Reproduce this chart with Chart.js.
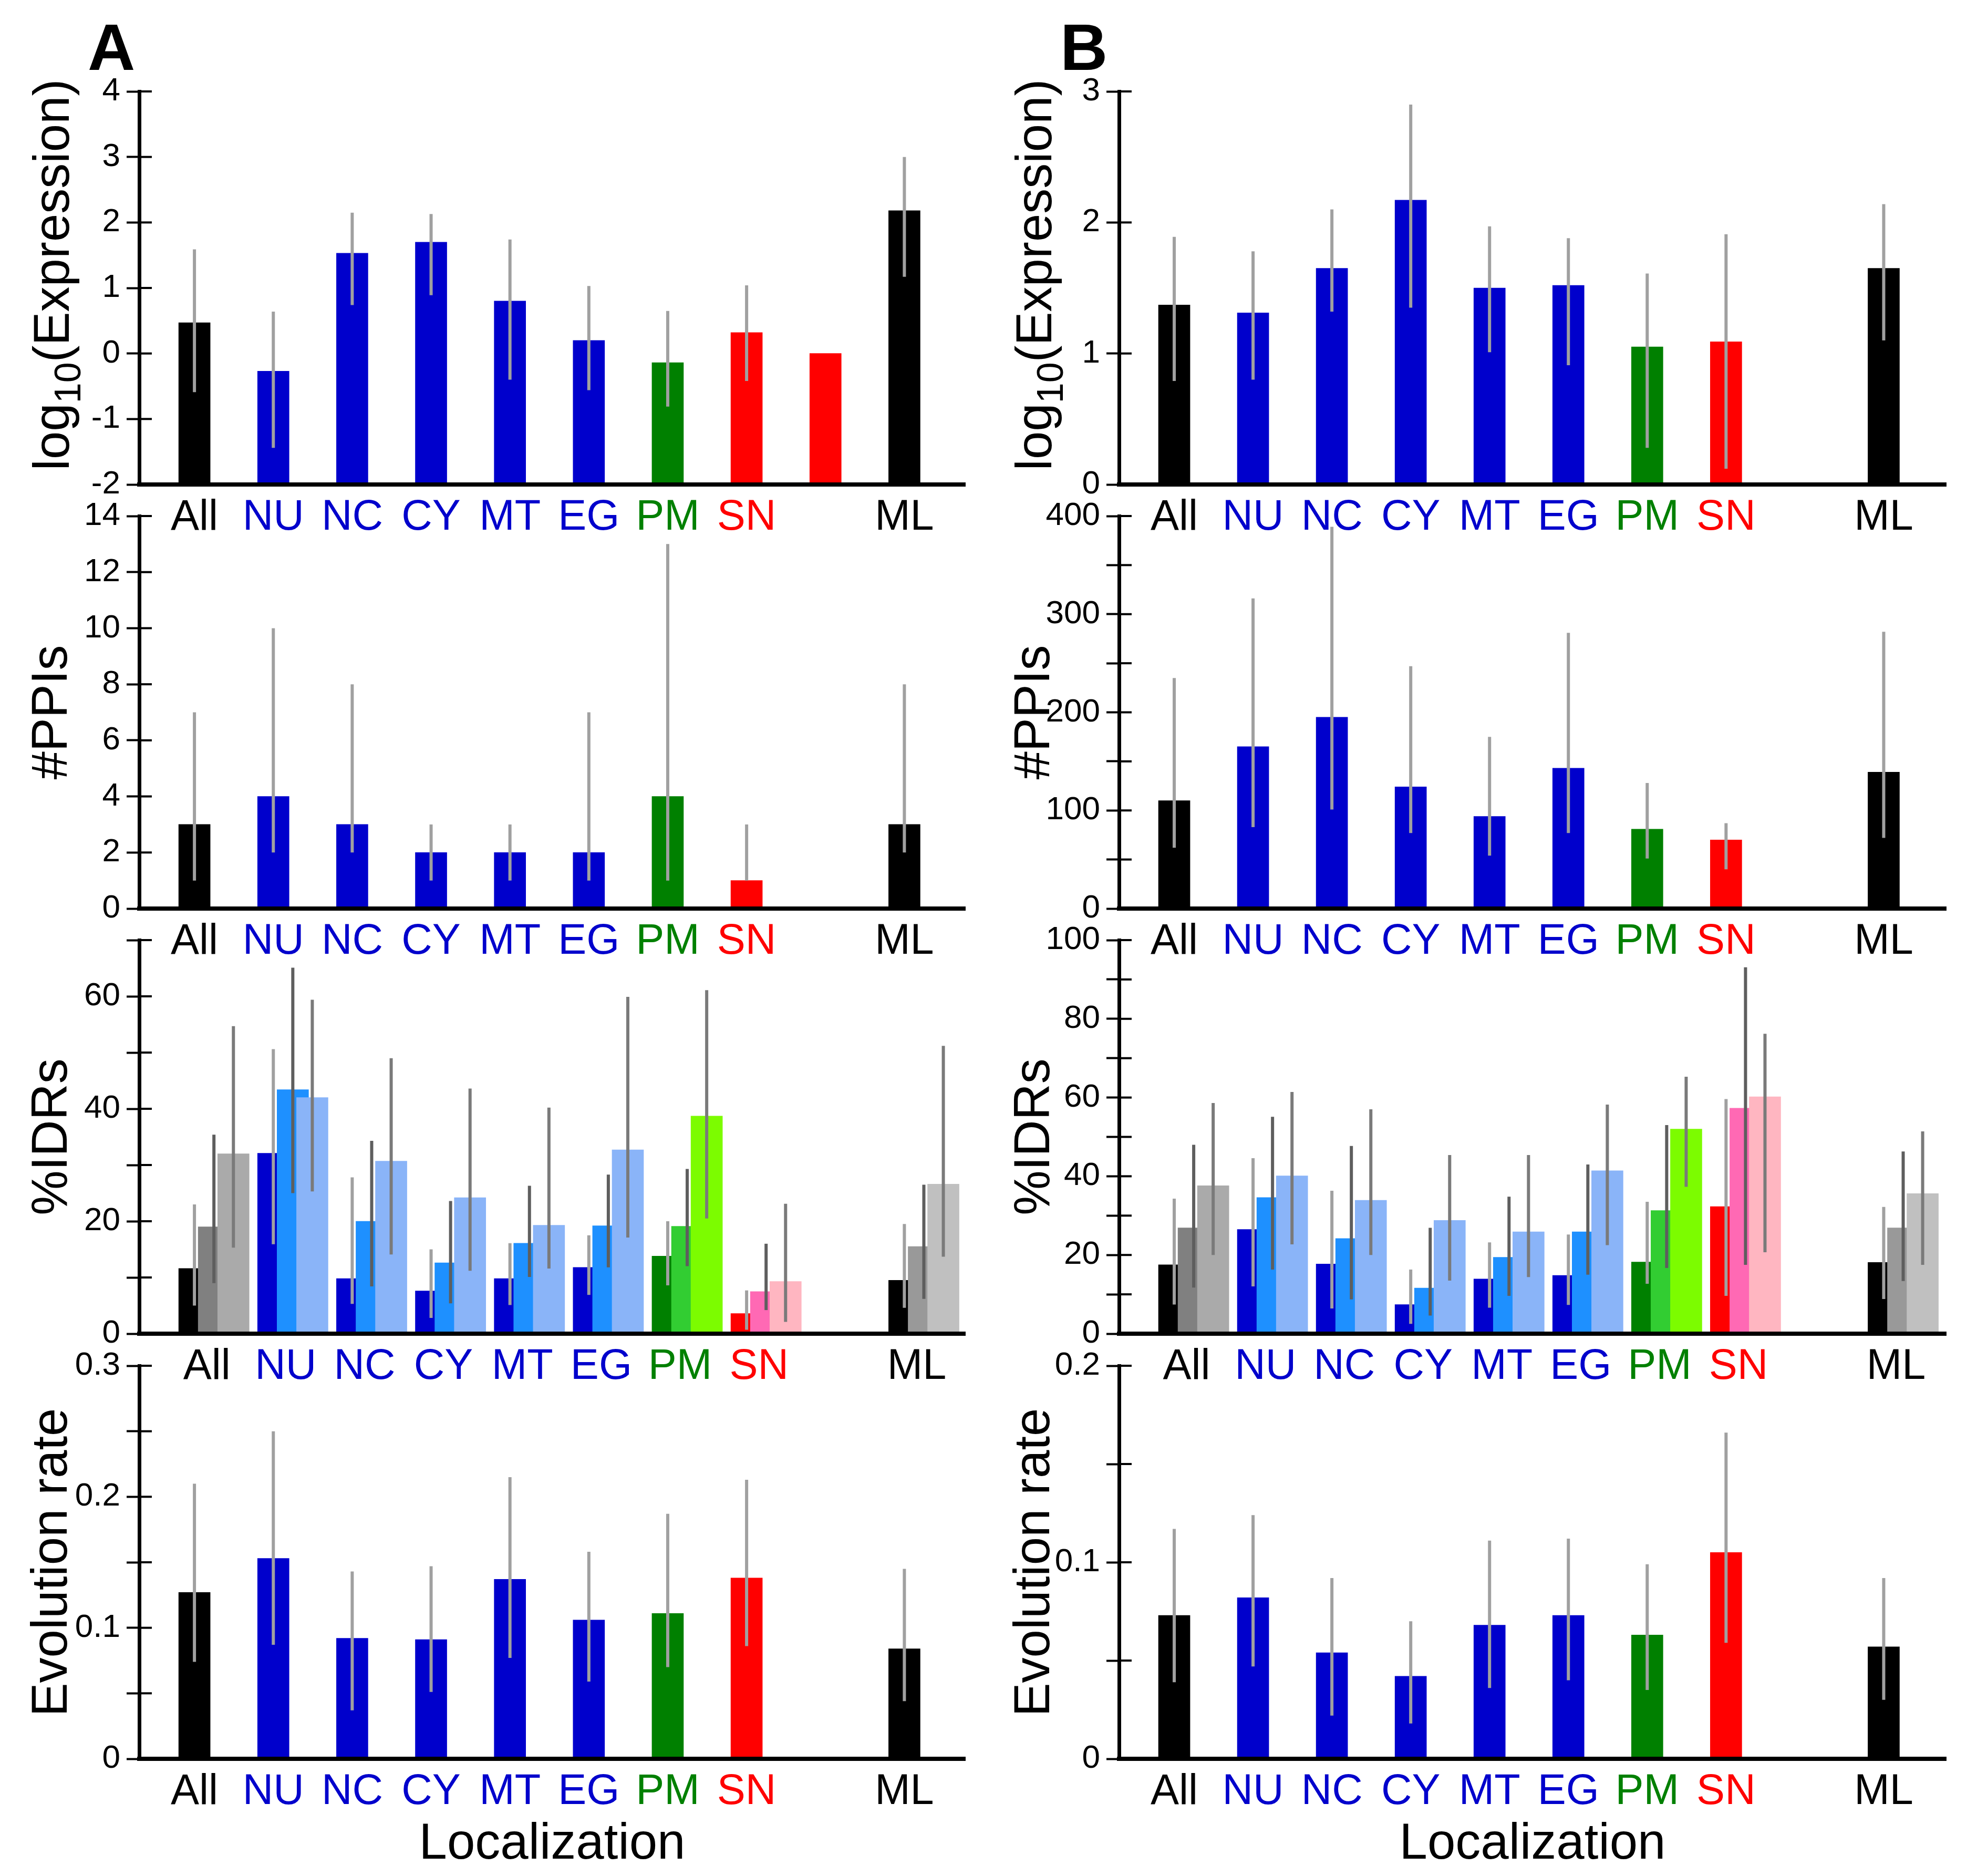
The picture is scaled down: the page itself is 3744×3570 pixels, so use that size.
<!DOCTYPE html>
<html>
<head>
<meta charset="utf-8">
<title>Localization panels</title>
<script src="https://cdn.jsdelivr.net/npm/chart.js@4.4.1/dist/chart.umd.min.js"></script>
<style>
  html, body { margin: 0; padding: 0; background: #fff; }
  #page { position: relative; width: 3744px; height: 3570px; overflow: hidden; background: #fff; }
  #page canvas { position: absolute; }
  .panel-tag { position: absolute; top: 27px; font: bold 125px "Liberation Sans", Arial, sans-serif; line-height: 1; color: #000; }
</style>
</head>
<body>
<div id="page">
  <div class="panel-tag" style="left:167px">A</div>
  <div class="panel-tag" style="left:2018px">B</div>
</div>
<script>
// categories on the x axis (the empty slot is the unlabelled red bar)
const categories = ['All', 'NU', 'NC', 'CY', 'MT', 'EG', 'PM', 'SN', '', 'ML'];
const categoryColors = ['#000000', '#0000cc', '#0000cc', '#0000cc', '#0000cc', '#0000cc', '#008000', '#ff0000', '#ff0000', '#000000'];

// log10(Expression)
const exprA     = [0.47, -0.27, 1.53, 1.70, 0.80, 0.20, -0.14, 0.32, 0.00, 2.18];
const exprALow  = [-0.59, -1.44, 0.74, 0.89, -0.40, -0.56, -0.81, -0.42, null, 1.17];
const exprAHigh = [1.59, 0.64, 2.15, 2.13, 1.74, 1.03, 0.65, 1.04, null, 3.00];
const exprB     = [1.37, 1.31, 1.65, 2.17, 1.50, 1.52, 1.05, 1.09, 0, 1.65];
const exprBLow  = [0.79, 0.80, 1.32, 1.35, 1.01, 0.91, 0.28, 0.12, null, 1.10];
const exprBHigh = [1.89, 1.78, 2.10, 2.90, 1.97, 1.88, 1.61, 1.91, null, 2.14];

// #PPIs
const ppiA     = [3, 4, 3, 2, 2, 2, 4, 1, 0, 3];
const ppiALow  = [1, 2, 2, 1, 1, 1, 1, 1, null, 2];
const ppiAHigh = [7, 10, 8, 3, 3, 7, 13, 3, null, 8];
const ppiB     = [110, 165, 195, 124, 94, 143, 81, 70, 0, 139];
const ppiBLow  = [62, 83, 101, 77, 54, 77, 51, 40, null, 72];
const ppiBHigh = [235, 316, 389, 247, 175, 281, 128, 87, null, 282];

// %IDRs, three series per localization
const idrA1     = [11.6, 32.1, 9.8, 7.6, 9.8, 11.8, 13.8, 3.6, 0, 9.5];
const idrA1Low  = [5.0, 15.9, 5.3, 2.8, 5.1, 6.9, 8.6, 0.7, null, 4.6];
const idrA1High = [23.0, 50.6, 27.8, 15.0, 16.1, 17.5, 20.0, 7.7, null, 19.5];
const idrA2     = [19.0, 43.4, 20.0, 12.6, 16.1, 19.2, 19.1, 7.5, 0, 15.5];
const idrA2Low  = [9.0, 25.0, 8.4, 5.4, 10.1, 11.8, 12.0, 4.2, null, 6.2];
const idrA2High = [35.4, 65.1, 34.3, 23.6, 26.3, 28.3, 29.3, 16.0, null, 26.5];
const idrA3     = [32.0, 42.0, 30.7, 24.2, 19.3, 32.7, 38.7, 9.3, 0, 26.6];
const idrA3Low  = [15.3, 25.3, 14.1, 11.2, 11.6, 17.1, 20.5, 2.1, null, 13.7];
const idrA3High = [54.7, 59.4, 49.0, 43.6, 40.2, 59.9, 61.1, 23.1, null, 51.2];

const idrB1     = [17.5, 26.5, 17.7, 7.4, 13.9, 14.8, 18.2, 32.3, 0, 18.1];
const idrB1Low  = [7.4, 12.0, 6.4, 2.5, 6.6, 7.3, 12.7, 9.6, null, 8.8];
const idrB1High = [34.3, 44.6, 36.3, 16.3, 23.2, 25.2, 33.5, 59.6, null, 32.2];
const idrB2     = [26.9, 34.6, 24.2, 11.6, 19.4, 25.9, 31.3, 57.3, 0, 26.9];
const idrB2Low  = [11.7, 16.3, 8.7, 4.6, 9.6, 15.0, 16.7, 17.5, null, 13.4];
const idrB2High = [48.0, 55.1, 47.7, 26.9, 34.8, 43.0, 53.0, 93.1, null, 46.3];
const idrB3     = [37.6, 40.1, 33.9, 28.8, 25.9, 41.4, 52.0, 60.2, 0, 35.6];
const idrB3Low  = [20.0, 22.7, 20.0, 13.5, 14.4, 22.5, 37.3, 20.7, null, 17.5];
const idrB3High = [58.6, 61.4, 57.0, 45.4, 45.4, 58.2, 65.3, 76.2, null, 51.4];

// Evolution rate
const evoA     = [0.127, 0.153, 0.092, 0.091, 0.137, 0.106, 0.111, 0.138, 0, 0.084];
const evoALow  = [0.074, 0.087, 0.037, 0.051, 0.077, 0.059, 0.070, 0.086, null, 0.044];
const evoAHigh = [0.210, 0.250, 0.143, 0.147, 0.215, 0.158, 0.187, 0.213, null, 0.145];
const evoB     = [0.073, 0.082, 0.054, 0.042, 0.068, 0.073, 0.063, 0.105, 0, 0.057];
const evoBLow  = [0.039, 0.047, 0.022, 0.018, 0.036, 0.040, 0.035, 0.059, null, 0.030];
const evoBHigh = [0.117, 0.124, 0.092, 0.070, 0.111, 0.112, 0.099, 0.166, null, 0.092];

// colours of the three %IDR shades per localization
const blueShades = ['#0000cd', '#1e90ff', '#8ab4f8'];
const idrShades = [
  ['#000000', '#808080', '#aaaaaa'],
  blueShades, blueShades, blueShades, blueShades, blueShades,
  ['#008000', '#32cd32', '#7cfc00'],
  ['#ff0000', '#ff69b4', '#ffb6c1'],
  ['#ff0000', '#ff69b4', '#ffb6c1'],
  ['#000000', '#999999', '#c0c0c0']
];
const idrErrColors = ['#a0a0a0', '#5e5e5e', '#7a7a7a'];

// layout (page pixels)
const PAD_TOP = 60;
const SHIFT = 0.247;       // offset of the side bars inside a %IDR group, in category units
const IDR_LABEL_NUDGE = -0.09;
const BAR_W = 60;
const TICK_LEN = 24;
const FONT = '"Liberation Sans", Arial, sans-serif';
const COLS = [
  { left: 0,    width: 1870, axisX: 265, padRight: 33, xMin: -0.70, xMax: 9.77 },
  { left: 1870, width: 1874, axisX: 260, padRight: 40, xMin: -0.70, xMax: 9.79 }
];
const ROWS = [
  { top: 174,  bottom: 922,  xh: 110 },
  { top: 982,  bottom: 1729, xh: 110 },
  { top: 1789, bottom: 2538, xh: 110 },
  { top: 2599, bottom: 3347, xh: 223 }
];

Chart.defaults.font.family = FONT;
Chart.defaults.color = '#000';

// error bars at the centre of every bar
const errorBars = {
  id: 'errorBars',
  afterDatasetsDraw(chart) {
    const ctx = chart.ctx, y = chart.scales.y;
    chart.data.datasets.forEach((ds, i) => {
      if (!ds.errLow) return;
      const meta = chart.getDatasetMeta(i);
      ctx.save();
      ctx.strokeStyle = ds.errColor;
      ctx.lineWidth = 6;
      meta.data.forEach((bar, j) => {
        if (ds.errLow[j] == null) return;
        ctx.beginPath();
        ctx.moveTo(bar.x, y.getPixelForValue(ds.errLow[j]));
        ctx.lineTo(bar.x, y.getPixelForValue(ds.errHigh[j]));
        ctx.stroke();
      });
      ctx.restore();
    });
  }
};

// y ticks cross the axis: draw the inner half
const innerTicks = {
  id: 'innerTicks',
  afterDraw(chart) {
    const y = chart.scales.y, ctx = chart.ctx;
    ctx.save();
    ctx.strokeStyle = '#000';
    ctx.lineWidth = 4;
    y.ticks.forEach(t => {
      const py = y.getPixelForValue(t.value);
      ctx.beginPath();
      ctx.moveTo(y.right, py);
      ctx.lineTo(y.right + TICK_LEN, py);
      ctx.stroke();
    });
    ctx.restore();
  }
};

// rotated y title with a real subscript (log10), parts kept on the canvas element
const subTitle = {
  id: 'subTitle',
  afterDraw(chart) {
    const parts = chart.canvas.titleParts;
    if (!parts) return;
    const ctx = chart.ctx, y = chart.scales.y, area = chart.chartArea;
    ctx.save();
    ctx.translate(y.left + 131, (area.top + area.bottom) / 2 - 25);
    ctx.rotate(-Math.PI / 2);
    ctx.fillStyle = '#000';
    ctx.textBaseline = 'alphabetic';
    ctx.textAlign = 'left';
    const widths = parts.map(p => {
      ctx.font = p.size + 'px ' + FONT;
      return ctx.measureText(p.text).width;
    });
    let x = -widths.reduce((a, b) => a + b, 0) / 2;
    parts.forEach((p, i) => {
      ctx.font = p.size + 'px ' + FONT;
      ctx.fillText(p.text, x, p.shift);
      x += widths[i];
    });
    ctx.restore();
  }
};

function tickLabel(v, every) {
  if (every && Math.abs(v / every - Math.round(v / every)) > 1e-6) return '';
  return String(parseFloat(v.toFixed(3)));
}

function singleSet(p) {
  return [{
    data: p.values.map((v, i) => ({ x: i, y: v })),
    backgroundColor: p.values.map((v, i) => categoryColors[i]),
    barThickness: BAR_W,
    grouped: false,
    base: p.min,
    errLow: p.low, errHigh: p.high, errColor: '#a0a0a0'
  }];
}

function idrSets(p) {
  return p.values.map((vals, k) => ({
    data: vals.map((v, i) => ({ x: i + (k - 1) * SHIFT, y: v })),
    backgroundColor: vals.map((v, i) => idrShades[i][k]),
    barThickness: BAR_W,
    grouped: false,
    order: 3 - k,
    base: p.min,
    errLow: p.low[k], errHigh: p.high[k], errColor: idrErrColors[k]
  }));
}

function makePanel(p) {
  const col = COLS[p.col], row = ROWS[p.row];
  const grouped = p.row === 2;
  const nudge = grouped ? IDR_LABEL_NUDGE : 0;
  const top = row.top - PAD_TOP;
  const height = PAD_TOP + (row.bottom - row.top) + row.xh;
  const canvas = document.createElement('canvas');
  canvas.width = col.width;
  canvas.height = height;
  canvas.style.left = col.left + 'px';
  canvas.style.top = top + 'px';
  canvas.style.width = col.width + 'px';
  canvas.style.height = height + 'px';
  document.getElementById('page').appendChild(canvas);

  const splitLog = p.title === 'log10(Expression)';
  if (splitLog) {
    canvas.titleParts = [
      { text: 'log', size: 96, shift: 0 },
      { text: '10', size: 70, shift: 22 },
      { text: '(Expression)', size: 96, shift: 0 }
    ];
  }

  new Chart(canvas, {
    type: 'bar',
    data: { datasets: grouped ? idrSets(p) : singleSet(p) },
    options: {
      responsive: false,
      animation: false,
      layout: { padding: { top: PAD_TOP, right: col.padRight, bottom: 0, left: 0 } },
      plugins: { legend: { display: false }, tooltip: { enabled: false } },
      scales: {
        x: {
          type: 'linear',
          bounds: 'data',
          offset: false,
          min: grouped ? col.xMin - SHIFT : col.xMin,
          max: grouped ? col.xMax - SHIFT : col.xMax,
          afterBuildTicks: s => { s.ticks = categories.map((c, i) => ({ value: i + nudge })); },
          afterFit: s => { s.height = row.xh; },
          grid: { display: false, drawTicks: false, offset: false },
          border: { display: true, color: '#000', width: 8, z: 1 },
          ticks: {
            autoSkip: false, maxRotation: 0, padding: 15,
            font: { size: 81 },
            color: c => categoryColors[c.index],
            callback: (v, i) => categories[i]
          },
          title: {
            display: p.row === 3, text: 'Localization', color: '#000',
            font: { size: 96 }, padding: { top: 0, bottom: 2 }
          }
        },
        y: {
          min: p.min, max: p.max,
          afterFit: s => { s.width = col.axisX; },
          ticks: {
            stepSize: p.step, autoSkip: false, padding: 12,
            font: { size: 62 }, color: '#000',
            callback: v => tickLabel(v, p.labelEvery)
          },
          grid: { drawOnChartArea: false, drawTicks: true, tickLength: TICK_LEN, tickWidth: 4, tickColor: '#000' },
          border: { color: '#000', width: 7 },
          title: {
            display: !splitLog, text: p.title, color: '#000',
            font: { size: 96 }, padding: { top: 43, bottom: 0 }
          }
        }
      }
    },
    plugins: [errorBars, innerTicks, subTitle]
  });
}

const panels = [
  { col: 0, row: 0, values: exprA, low: exprALow, high: exprAHigh, min: -2, max: 4, step: 1, title: 'log10(Expression)' },
  { col: 1, row: 0, values: exprB, low: exprBLow, high: exprBHigh, min: 0, max: 3, step: 1, title: 'log10(Expression)' },
  { col: 0, row: 1, values: ppiA, low: ppiALow, high: ppiAHigh, min: 0, max: 14, step: 2, title: '#PPIs' },
  { col: 1, row: 1, values: ppiB, low: ppiBLow, high: ppiBHigh, min: 0, max: 400, step: 50, labelEvery: 100, title: '#PPIs' },
  { col: 0, row: 2, values: [idrA1, idrA2, idrA3], low: [idrA1Low, idrA2Low, idrA3Low], high: [idrA1High, idrA2High, idrA3High],
    min: 0, max: 70, step: 10, labelEvery: 20, title: '%IDRs' },
  { col: 1, row: 2, values: [idrB1, idrB2, idrB3], low: [idrB1Low, idrB2Low, idrB3Low], high: [idrB1High, idrB2High, idrB3High],
    min: 0, max: 100, step: 10, labelEvery: 20, title: '%IDRs' },
  { col: 0, row: 3, values: evoA, low: evoALow, high: evoAHigh, min: 0, max: 0.3, step: 0.05, labelEvery: 0.1, title: 'Evolution rate' },
  { col: 1, row: 3, values: evoB, low: evoBLow, high: evoBHigh, min: 0, max: 0.2, step: 0.05, labelEvery: 0.1, title: 'Evolution rate' }
];

panels.forEach(makePanel);
</script>
</body>
</html>
